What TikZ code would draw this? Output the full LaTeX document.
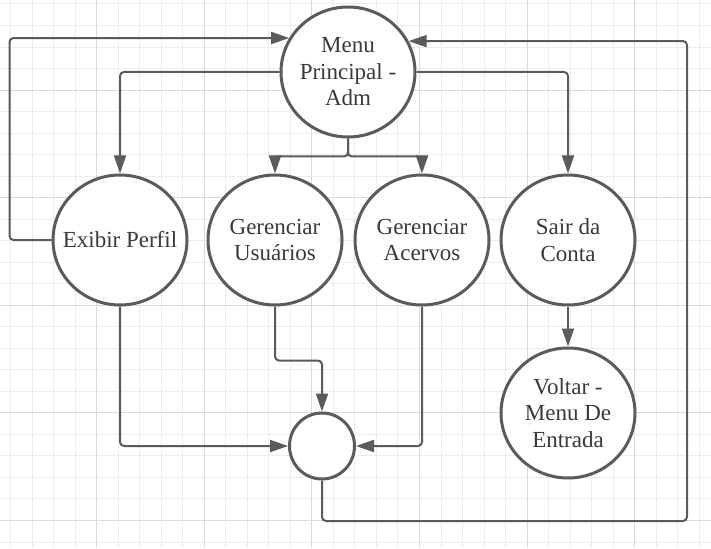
\documentclass[tikz,border=0pt]{standalone}
\usepackage{fontspec}
\setmainfont{Liberation Serif}
\usetikzlibrary{arrows.meta,shapes.geometric}
\definecolor{linha}{HTML}{5B5B5B}
\definecolor{texto}{HTML}{3A3A3A}
\definecolor{gradeclara}{HTML}{EDEDED}
\definecolor{gradeforte}{HTML}{DADADA}
\begin{document}
\begin{tikzpicture}[x=1pt,y=-1pt,
    estado/.style={draw=linha,line width=3pt,fill=white,ellipse,inner sep=0pt,
      minimum width=134pt,minimum height=130pt},
    rotulo/.style={text=texto,align=center,font=\fontsize{23}{26.5}\selectfont},
    seta/.style={draw=linha,line width=2pt,rounded corners=4pt,
      -{Triangle[length=18pt,width=12pt]}}]
    %Fundo
    \fill[white] (0,0) rectangle (711,548);
    \useasboundingbox (0,0) rectangle (711,548);

    %Grade
    \foreach \k in {0,...,32}
      \draw[gradeclara,line width=1pt] (10.6+21.52*\k,0) -- (10.6+21.52*\k,548);
    \foreach \k in {0,...,25}
      \draw[gradeclara,line width=1pt] (0,4+21.52*\k) -- (711,4+21.52*\k);
    \foreach \k in {4,9,...,29}
      \draw[gradeforte,line width=1pt] (10.6+21.52*\k,0) -- (10.6+21.52*\k,548);
    \foreach \k in {4,9,...,24}
      \draw[gradeforte,line width=1pt] (0,4+21.52*\k) -- (711,4+21.52*\k);

    %Estados
    \node[estado,label={[rotulo]center:{Menu\\Principal -\\Adm}}] (Menu) at (348,72) {};
    \node[estado,label={[rotulo]center:{Exibir Perfil}}] (Perfil) at (120,240) {};
    \node[estado,label={[rotulo]center:{Gerenciar\\Usuários}}] (Usuarios) at (275,240) {};
    \node[estado,label={[rotulo]center:{Gerenciar\\Acervos}}] (Acervos) at (422,240) {};
    \node[estado,label={[rotulo]center:{Sair da\\Conta}}] (Sair) at (568,240) {};
    \node[estado,label={[rotulo]center:{Voltar -\\Menu De\\Entrada}}] (Voltar) at (568,413) {};
    \node[estado,minimum width=65pt,minimum height=66pt] (Fim) at (322,446) {};
    \coordinate (Canto) at (687,521);

    %Ligacoes
    \draw[seta] (Menu.west) -| (Perfil.north);
    \draw[seta] (Menu.east) -| (Sair.north);
    \draw[seta] (Menu.south) -- ++(0,18) -| (Usuarios.north);
    \draw[seta] (Menu.south) -- ++(0,18) -| (Acervos.north);
    \draw[seta] (Perfil.west) -- ++(-42,0) |- (Menu.150);
    \draw[seta] (Perfil.south) |- (Fim.west);
    \draw[seta] (Usuarios.south) -- ++(0,54) -| (Fim.north);
    \draw[seta] (Acervos.south) |- (Fim.east);
    \draw[seta] (Sair.south) -- (Voltar.north);
    \draw[seta] (Fim.south) |- (Canto) |- (Menu.27);
\end{tikzpicture}
\end{document}
